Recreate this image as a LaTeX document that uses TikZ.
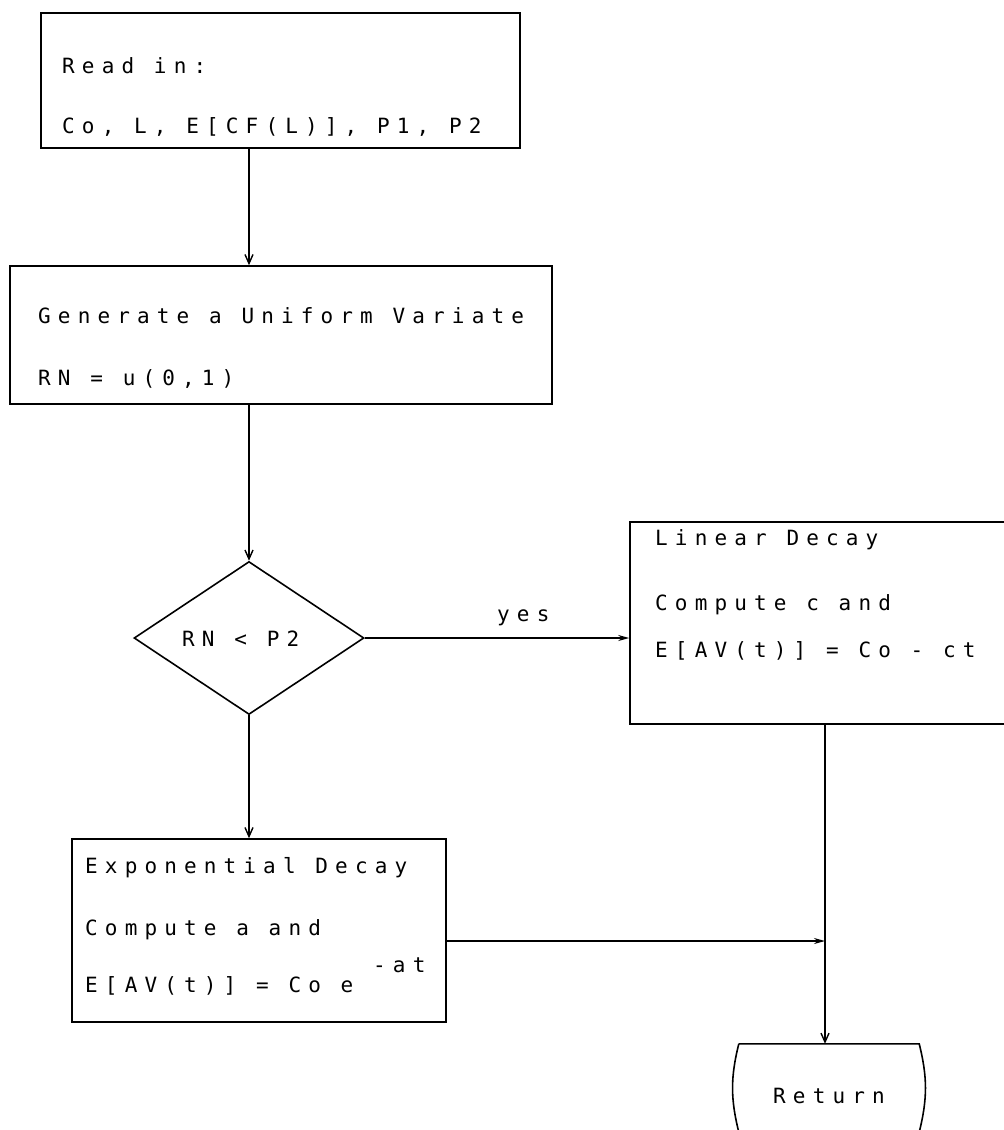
\documentclass[tikz,border=0pt]{standalone}
\usepackage{fontspec}
\newfontfamily\plotfont{DejaVu Sans Mono}[LetterSpace=34]
\usetikzlibrary{arrows.meta,shapes.geometric}

\begin{document}
\begin{tikzpicture}[x=1pt,y=-1pt,
  box/.style={draw,line width=1.6pt,rectangle,inner sep=0pt},
  txt/.style={anchor=base west,inner sep=0pt,font=\fontsize{21pt}{24pt}\selectfont\plotfont},
  flow/.style={line width=1.4pt,-{Straight Barb[length=9pt,width=8pt]}},
  flowfill/.style={line width=1.4pt,-{Stealth[length=11pt,width=6pt]}},
]
\useasboundingbox (0,0) rectangle (1004,1130);

% boxes
\node[box,minimum width=479pt,minimum height=135pt] (read) at (280.5,80.5) {};
\node[box,minimum width=542pt,minimum height=138pt] (gen) at (281,335) {};
\node[draw,diamond,line width=1.6pt,inner sep=0pt,minimum width=230pt,minimum height=153pt] (dec) at (249,638) {};
\node[box,minimum width=390pt,minimum height=202pt] (lin) at (825,623) {};
\node[box,minimum width=374pt,minimum height=183pt] (exp) at (259,930.5) {};
\node[inner sep=0pt,minimum width=180pt,minimum height=88pt] (ret) at (829,1088) {};
\draw[line width=1.6pt] (ret.north west) -- (ret.north east) to[bend left=14] (ret.south east)
  -- (ret.south west) to[bend left=14] (ret.north west);

% texts
\node[txt] (t1) at (62,73) {Read in:};
\node[txt] (t2) at (62,133) {Co, L, E[CF(L)], P1, P2};
\node[txt] (t3) at (38,323) {Generate a Uniform Variate};
\node[txt] (t4) at (38,385) {RN = u(0,1)};
\node[txt] (t5) at (182,646) {RN < P2};
\node[txt] (t6) at (497,621) {yes};
\node[txt] (t7) at (655,545) {Linear Decay};
\node[txt] (t8) at (655,610) {Compute c and};
\node[txt] (t9) at (655,657) {E[AV(t)] = Co - ct};
\node[txt] (t10) at (85,873) {Exponential Decay};
\node[txt] (t11) at (85,935) {Compute a and};
\node[txt] (t12) at (85,992) {E[AV(t)] = Co e};
\node[txt] (t13) at (373,972) {-at};
\node[txt] (t14) at (773,1103) {Return};

% connectors
\coordinate (join) at (lin.south |- 0,941);
\draw[flow] (read.south -| dec) -- (gen.north -| dec);
\draw[flow] (gen.south -| dec) -- (dec.north);
\draw[flowfill] (dec.east) -- (dec.east -| lin.west);
\draw[flow] (dec.south) -- (dec.south |- exp.north);
\draw[line width=1.4pt] (lin.south) -- (join);
\draw[flow] (join) -- (join |- ret.north);
\draw[flowfill] (exp.east |- join) -- (join);
\end{tikzpicture}
\end{document}
